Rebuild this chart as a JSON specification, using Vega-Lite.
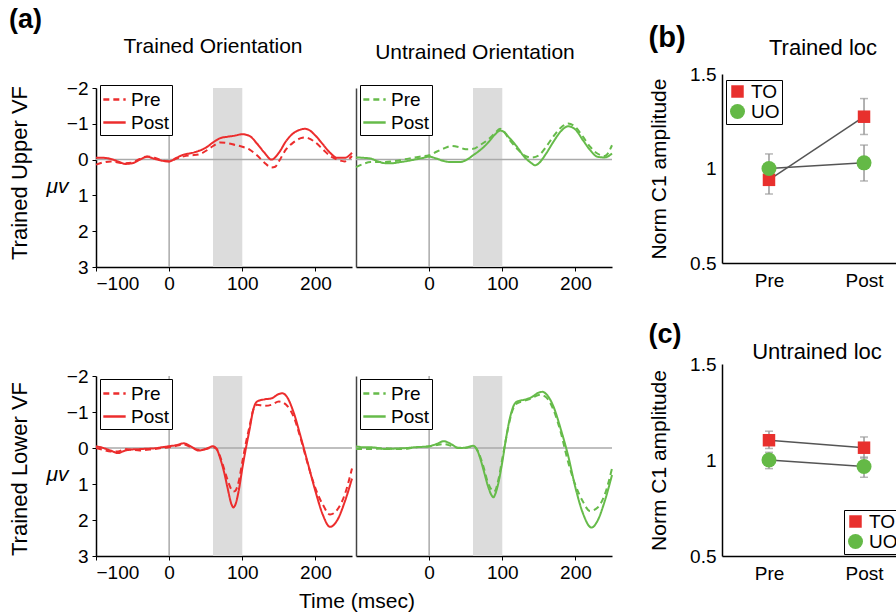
{
"$schema":"https://vega.github.io/schema/vega-lite/v6.json",
"padding":{"left":8,"top":6,"right":0,"bottom":0},
"config":{
 "font":"Liberation Sans",
 "view":{"stroke":null},
 "axis":{"labelFontSize":19,"labelColor":"#000","domainColor":"#000","domainWidth":1.5,"tickColor":"#000","grid":false,"titleFontWeight":"normal","titleColor":"#000","titleFontSize":21,"labelFont":"Liberation Sans","titleFont":"Liberation Sans"},
 "title":{"fontWeight":"normal","color":"#000","fontSize":21,"font":"Liberation Sans"},
 "legend":{"labelFontSize":19,"labelColor":"#000","strokeColor":"#000","fillColor":"#fff","padding":3,"cornerRadius":0,"labelFont":"Liberation Sans"}
},
"datasets":{
"erp":[
{"panel":"UT","phase":"Post","t":-100,"uv":-0.05},{"panel":"UT","phase":"Post","t":-90,"uv":-0.05},{"panel":"UT","phase":"Post","t":-80,"uv":-0.02},{"panel":"UT","phase":"Post","t":-70,"uv":0.05},{"panel":"UT","phase":"Post","t":-60,"uv":0.12},{"panel":"UT","phase":"Post","t":-50,"uv":0.1},{"panel":"UT","phase":"Post","t":-40,"uv":0.0},{"panel":"UT","phase":"Post","t":-30,"uv":-0.08},{"panel":"UT","phase":"Post","t":-20,"uv":-0.02},{"panel":"UT","phase":"Post","t":-10,"uv":0.03},{"panel":"UT","phase":"Post","t":0,"uv":0.05},{"panel":"UT","phase":"Post","t":10,"uv":-0.05},{"panel":"UT","phase":"Post","t":20,"uv":-0.14},{"panel":"UT","phase":"Post","t":30,"uv":-0.18},{"panel":"UT","phase":"Post","t":40,"uv":-0.24},{"panel":"UT","phase":"Post","t":50,"uv":-0.33},{"panel":"UT","phase":"Post","t":60,"uv":-0.48},{"panel":"UT","phase":"Post","t":70,"uv":-0.6},{"panel":"UT","phase":"Post","t":80,"uv":-0.64},{"panel":"UT","phase":"Post","t":90,"uv":-0.67},{"panel":"UT","phase":"Post","t":100,"uv":-0.71},{"panel":"UT","phase":"Post","t":110,"uv":-0.66},{"panel":"UT","phase":"Post","t":120,"uv":-0.45},{"panel":"UT","phase":"Post","t":130,"uv":-0.2},{"panel":"UT","phase":"Post","t":140,"uv":0.0},{"panel":"UT","phase":"Post","t":150,"uv":-0.19},{"panel":"UT","phase":"Post","t":160,"uv":-0.52},{"panel":"UT","phase":"Post","t":170,"uv":-0.74},{"panel":"UT","phase":"Post","t":180,"uv":-0.84},{"panel":"UT","phase":"Post","t":185,"uv":-0.86},{"panel":"UT","phase":"Post","t":190,"uv":-0.84},{"panel":"UT","phase":"Post","t":200,"uv":-0.67},{"panel":"UT","phase":"Post","t":210,"uv":-0.43},{"panel":"UT","phase":"Post","t":220,"uv":-0.19},{"panel":"UT","phase":"Post","t":230,"uv":-0.05},{"panel":"UT","phase":"Post","t":240,"uv":-0.05},{"panel":"UT","phase":"Post","t":250,"uv":-0.19},
{"panel":"UT","phase":"Pre","t":-100,"uv":0.14},{"panel":"UT","phase":"Pre","t":-90,"uv":0.08},{"panel":"UT","phase":"Pre","t":-80,"uv":0.05},{"panel":"UT","phase":"Pre","t":-70,"uv":0.08},{"panel":"UT","phase":"Pre","t":-60,"uv":0.1},{"panel":"UT","phase":"Pre","t":-50,"uv":0.08},{"panel":"UT","phase":"Pre","t":-40,"uv":-0.02},{"panel":"UT","phase":"Pre","t":-30,"uv":-0.09},{"panel":"UT","phase":"Pre","t":-20,"uv":-0.05},{"panel":"UT","phase":"Pre","t":-10,"uv":0.02},{"panel":"UT","phase":"Pre","t":0,"uv":0.05},{"panel":"UT","phase":"Pre","t":10,"uv":-0.03},{"panel":"UT","phase":"Pre","t":20,"uv":-0.09},{"panel":"UT","phase":"Pre","t":30,"uv":-0.12},{"panel":"UT","phase":"Pre","t":40,"uv":-0.14},{"panel":"UT","phase":"Pre","t":50,"uv":-0.24},{"panel":"UT","phase":"Pre","t":60,"uv":-0.38},{"panel":"UT","phase":"Pre","t":70,"uv":-0.48},{"panel":"UT","phase":"Pre","t":80,"uv":-0.46},{"panel":"UT","phase":"Pre","t":90,"uv":-0.41},{"panel":"UT","phase":"Pre","t":100,"uv":-0.36},{"panel":"UT","phase":"Pre","t":110,"uv":-0.28},{"panel":"UT","phase":"Pre","t":120,"uv":-0.12},{"panel":"UT","phase":"Pre","t":130,"uv":0.08},{"panel":"UT","phase":"Pre","t":140,"uv":0.22},{"panel":"UT","phase":"Pre","t":145,"uv":0.2},{"panel":"UT","phase":"Pre","t":150,"uv":0.05},{"panel":"UT","phase":"Pre","t":160,"uv":-0.29},{"panel":"UT","phase":"Pre","t":170,"uv":-0.48},{"panel":"UT","phase":"Pre","t":180,"uv":-0.6},{"panel":"UT","phase":"Pre","t":185,"uv":-0.62},{"panel":"UT","phase":"Pre","t":190,"uv":-0.6},{"panel":"UT","phase":"Pre","t":200,"uv":-0.48},{"panel":"UT","phase":"Pre","t":210,"uv":-0.29},{"panel":"UT","phase":"Pre","t":220,"uv":-0.1},{"panel":"UT","phase":"Pre","t":230,"uv":0.0},{"panel":"UT","phase":"Pre","t":240,"uv":0.05},{"panel":"UT","phase":"Pre","t":250,"uv":-0.1},
{"panel":"UU","phase":"Post","t":-100,"uv":-0.06},{"panel":"UU","phase":"Post","t":-90,"uv":-0.05},{"panel":"UU","phase":"Post","t":-80,"uv":-0.03},{"panel":"UU","phase":"Post","t":-70,"uv":0.05},{"panel":"UU","phase":"Post","t":-60,"uv":0.1},{"panel":"UU","phase":"Post","t":-50,"uv":0.1},{"panel":"UU","phase":"Post","t":-40,"uv":0.07},{"panel":"UU","phase":"Post","t":-30,"uv":0.04},{"panel":"UU","phase":"Post","t":-20,"uv":0.0},{"panel":"UU","phase":"Post","t":-10,"uv":-0.04},{"panel":"UU","phase":"Post","t":0,"uv":-0.08},{"panel":"UU","phase":"Post","t":10,"uv":-0.03},{"panel":"UU","phase":"Post","t":20,"uv":0.04},{"panel":"UU","phase":"Post","t":30,"uv":0.07},{"panel":"UU","phase":"Post","t":40,"uv":0.07},{"panel":"UU","phase":"Post","t":50,"uv":0.02},{"panel":"UU","phase":"Post","t":60,"uv":-0.12},{"panel":"UU","phase":"Post","t":70,"uv":-0.27},{"panel":"UU","phase":"Post","t":80,"uv":-0.46},{"panel":"UU","phase":"Post","t":90,"uv":-0.7},{"panel":"UU","phase":"Post","t":97,"uv":-0.81},{"panel":"UU","phase":"Post","t":100,"uv":-0.8},{"panel":"UU","phase":"Post","t":110,"uv":-0.6},{"panel":"UU","phase":"Post","t":120,"uv":-0.36},{"panel":"UU","phase":"Post","t":130,"uv":-0.08},{"panel":"UU","phase":"Post","t":140,"uv":0.1},{"panel":"UU","phase":"Post","t":145,"uv":0.16},{"panel":"UU","phase":"Post","t":150,"uv":0.1},{"panel":"UU","phase":"Post","t":160,"uv":-0.17},{"panel":"UU","phase":"Post","t":170,"uv":-0.5},{"panel":"UU","phase":"Post","t":180,"uv":-0.79},{"panel":"UU","phase":"Post","t":190,"uv":-0.93},{"panel":"UU","phase":"Post","t":200,"uv":-0.84},{"panel":"UU","phase":"Post","t":210,"uv":-0.55},{"panel":"UU","phase":"Post","t":220,"uv":-0.27},{"panel":"UU","phase":"Post","t":230,"uv":-0.08},{"panel":"UU","phase":"Post","t":240,"uv":-0.06},{"panel":"UU","phase":"Post","t":250,"uv":-0.17},
{"panel":"UU","phase":"Pre","t":-100,"uv":0.21},{"panel":"UU","phase":"Pre","t":-90,"uv":0.12},{"panel":"UU","phase":"Pre","t":-80,"uv":0.07},{"panel":"UU","phase":"Pre","t":-70,"uv":0.07},{"panel":"UU","phase":"Pre","t":-60,"uv":0.07},{"panel":"UU","phase":"Pre","t":-50,"uv":0.05},{"panel":"UU","phase":"Pre","t":-40,"uv":0.02},{"panel":"UU","phase":"Pre","t":-30,"uv":-0.02},{"panel":"UU","phase":"Pre","t":-20,"uv":-0.06},{"panel":"UU","phase":"Pre","t":-10,"uv":-0.09},{"panel":"UU","phase":"Pre","t":0,"uv":-0.12},{"panel":"UU","phase":"Pre","t":10,"uv":-0.22},{"panel":"UU","phase":"Pre","t":20,"uv":-0.31},{"panel":"UU","phase":"Pre","t":30,"uv":-0.38},{"panel":"UU","phase":"Pre","t":40,"uv":-0.35},{"panel":"UU","phase":"Pre","t":50,"uv":-0.29},{"panel":"UU","phase":"Pre","t":60,"uv":-0.3},{"panel":"UU","phase":"Pre","t":70,"uv":-0.41},{"panel":"UU","phase":"Pre","t":80,"uv":-0.55},{"panel":"UU","phase":"Pre","t":90,"uv":-0.74},{"panel":"UU","phase":"Pre","t":97,"uv":-0.86},{"panel":"UU","phase":"Pre","t":100,"uv":-0.83},{"panel":"UU","phase":"Pre","t":110,"uv":-0.55},{"panel":"UU","phase":"Pre","t":120,"uv":-0.31},{"panel":"UU","phase":"Pre","t":130,"uv":-0.12},{"panel":"UU","phase":"Pre","t":140,"uv":-0.06},{"panel":"UU","phase":"Pre","t":150,"uv":-0.12},{"panel":"UU","phase":"Pre","t":160,"uv":-0.36},{"panel":"UU","phase":"Pre","t":170,"uv":-0.65},{"panel":"UU","phase":"Pre","t":180,"uv":-0.89},{"panel":"UU","phase":"Pre","t":190,"uv":-1.01},{"panel":"UU","phase":"Pre","t":200,"uv":-0.91},{"panel":"UU","phase":"Pre","t":210,"uv":-0.65},{"panel":"UU","phase":"Pre","t":220,"uv":-0.36},{"panel":"UU","phase":"Pre","t":230,"uv":-0.17},{"panel":"UU","phase":"Pre","t":240,"uv":-0.1},{"panel":"UU","phase":"Pre","t":250,"uv":-0.4},
{"panel":"LT","phase":"Post","t":-100,"uv":-0.05},{"panel":"LT","phase":"Post","t":-90,"uv":0.0},{"panel":"LT","phase":"Post","t":-80,"uv":0.07},{"panel":"LT","phase":"Post","t":-70,"uv":0.14},{"panel":"LT","phase":"Post","t":-60,"uv":0.07},{"panel":"LT","phase":"Post","t":-50,"uv":0.04},{"panel":"LT","phase":"Post","t":-40,"uv":0.03},{"panel":"LT","phase":"Post","t":-30,"uv":0.02},{"panel":"LT","phase":"Post","t":-20,"uv":0.01},{"panel":"LT","phase":"Post","t":-10,"uv":-0.02},{"panel":"LT","phase":"Post","t":0,"uv":-0.05},{"panel":"LT","phase":"Post","t":10,"uv":-0.08},{"panel":"LT","phase":"Post","t":20,"uv":-0.13},{"panel":"LT","phase":"Post","t":30,"uv":-0.04},{"panel":"LT","phase":"Post","t":40,"uv":0.07},{"panel":"LT","phase":"Post","t":50,"uv":0.03},{"panel":"LT","phase":"Post","t":60,"uv":-0.05},{"panel":"LT","phase":"Post","t":65,"uv":0.03},{"panel":"LT","phase":"Post","t":70,"uv":0.3},{"panel":"LT","phase":"Post","t":75,"uv":0.66},{"panel":"LT","phase":"Post","t":80,"uv":1.12},{"panel":"LT","phase":"Post","t":85,"uv":1.55},{"panel":"LT","phase":"Post","t":88,"uv":1.65},{"panel":"LT","phase":"Post","t":90,"uv":1.6},{"panel":"LT","phase":"Post","t":95,"uv":1.2},{"panel":"LT","phase":"Post","t":100,"uv":0.57},{"panel":"LT","phase":"Post","t":105,"uv":0.0},{"panel":"LT","phase":"Post","t":110,"uv":-0.52},{"panel":"LT","phase":"Post","t":115,"uv":-1.06},{"panel":"LT","phase":"Post","t":120,"uv":-1.29},{"panel":"LT","phase":"Post","t":130,"uv":-1.35},{"panel":"LT","phase":"Post","t":140,"uv":-1.38},{"panel":"LT","phase":"Post","t":150,"uv":-1.5},{"panel":"LT","phase":"Post","t":155,"uv":-1.52},{"panel":"LT","phase":"Post","t":160,"uv":-1.45},{"panel":"LT","phase":"Post","t":170,"uv":-1.0},{"panel":"LT","phase":"Post","t":180,"uv":-0.3},{"panel":"LT","phase":"Post","t":190,"uv":0.45},{"panel":"LT","phase":"Post","t":200,"uv":1.2},{"panel":"LT","phase":"Post","t":210,"uv":1.85},{"panel":"LT","phase":"Post","t":220,"uv":2.19},{"panel":"LT","phase":"Post","t":230,"uv":2.0},{"panel":"LT","phase":"Post","t":240,"uv":1.5},{"panel":"LT","phase":"Post","t":250,"uv":0.85},
{"panel":"LT","phase":"Pre","t":-100,"uv":0.0},{"panel":"LT","phase":"Pre","t":-90,"uv":0.05},{"panel":"LT","phase":"Pre","t":-80,"uv":0.1},{"panel":"LT","phase":"Pre","t":-70,"uv":0.1},{"panel":"LT","phase":"Pre","t":-60,"uv":0.03},{"panel":"LT","phase":"Pre","t":-50,"uv":0.05},{"panel":"LT","phase":"Pre","t":-40,"uv":0.07},{"panel":"LT","phase":"Pre","t":-30,"uv":0.05},{"panel":"LT","phase":"Pre","t":-20,"uv":0.03},{"panel":"LT","phase":"Pre","t":-10,"uv":0.0},{"panel":"LT","phase":"Pre","t":0,"uv":-0.02},{"panel":"LT","phase":"Pre","t":10,"uv":-0.06},{"panel":"LT","phase":"Pre","t":20,"uv":-0.1},{"panel":"LT","phase":"Pre","t":30,"uv":-0.02},{"panel":"LT","phase":"Pre","t":40,"uv":0.05},{"panel":"LT","phase":"Pre","t":50,"uv":0.03},{"panel":"LT","phase":"Pre","t":60,"uv":-0.02},{"panel":"LT","phase":"Pre","t":65,"uv":0.03},{"panel":"LT","phase":"Pre","t":70,"uv":0.25},{"panel":"LT","phase":"Pre","t":75,"uv":0.57},{"panel":"LT","phase":"Pre","t":80,"uv":0.89},{"panel":"LT","phase":"Pre","t":85,"uv":1.15},{"panel":"LT","phase":"Pre","t":88,"uv":1.21},{"panel":"LT","phase":"Pre","t":90,"uv":1.2},{"panel":"LT","phase":"Pre","t":95,"uv":0.94},{"panel":"LT","phase":"Pre","t":100,"uv":0.39},{"panel":"LT","phase":"Pre","t":105,"uv":-0.15},{"panel":"LT","phase":"Pre","t":110,"uv":-0.61},{"panel":"LT","phase":"Pre","t":115,"uv":-1.06},{"panel":"LT","phase":"Pre","t":120,"uv":-1.2},{"panel":"LT","phase":"Pre","t":130,"uv":-1.17},{"panel":"LT","phase":"Pre","t":140,"uv":-1.2},{"panel":"LT","phase":"Pre","t":150,"uv":-1.29},{"panel":"LT","phase":"Pre","t":155,"uv":-1.27},{"panel":"LT","phase":"Pre","t":160,"uv":-1.2},{"panel":"LT","phase":"Pre","t":170,"uv":-0.88},{"panel":"LT","phase":"Pre","t":180,"uv":-0.25},{"panel":"LT","phase":"Pre","t":190,"uv":0.48},{"panel":"LT","phase":"Pre","t":200,"uv":1.12},{"panel":"LT","phase":"Pre","t":210,"uv":1.57},{"panel":"LT","phase":"Pre","t":220,"uv":1.85},{"panel":"LT","phase":"Pre","t":230,"uv":1.71},{"panel":"LT","phase":"Pre","t":240,"uv":1.3},{"panel":"LT","phase":"Pre","t":250,"uv":0.57},
{"panel":"LU","phase":"Post","t":-100,"uv":-0.05},{"panel":"LU","phase":"Post","t":-90,"uv":-0.02},{"panel":"LU","phase":"Post","t":-80,"uv":-0.02},{"panel":"LU","phase":"Post","t":-70,"uv":0.0},{"panel":"LU","phase":"Post","t":-60,"uv":0.03},{"panel":"LU","phase":"Post","t":-50,"uv":0.02},{"panel":"LU","phase":"Post","t":-40,"uv":0.01},{"panel":"LU","phase":"Post","t":-30,"uv":0.0},{"panel":"LU","phase":"Post","t":-20,"uv":-0.02},{"panel":"LU","phase":"Post","t":-10,"uv":-0.03},{"panel":"LU","phase":"Post","t":0,"uv":-0.05},{"panel":"LU","phase":"Post","t":10,"uv":-0.11},{"panel":"LU","phase":"Post","t":20,"uv":-0.19},{"panel":"LU","phase":"Post","t":30,"uv":-0.11},{"panel":"LU","phase":"Post","t":40,"uv":0.0},{"panel":"LU","phase":"Post","t":50,"uv":-0.01},{"panel":"LU","phase":"Post","t":60,"uv":-0.06},{"panel":"LU","phase":"Post","t":65,"uv":0.03},{"panel":"LU","phase":"Post","t":70,"uv":0.3},{"panel":"LU","phase":"Post","t":75,"uv":0.66},{"panel":"LU","phase":"Post","t":80,"uv":1.03},{"panel":"LU","phase":"Post","t":85,"uv":1.3},{"panel":"LU","phase":"Post","t":88,"uv":1.37},{"panel":"LU","phase":"Post","t":90,"uv":1.3},{"panel":"LU","phase":"Post","t":95,"uv":0.94},{"panel":"LU","phase":"Post","t":100,"uv":0.39},{"panel":"LU","phase":"Post","t":105,"uv":-0.25},{"panel":"LU","phase":"Post","t":110,"uv":-0.79},{"panel":"LU","phase":"Post","t":115,"uv":-1.15},{"panel":"LU","phase":"Post","t":120,"uv":-1.29},{"panel":"LU","phase":"Post","t":130,"uv":-1.34},{"panel":"LU","phase":"Post","t":140,"uv":-1.41},{"panel":"LU","phase":"Post","t":150,"uv":-1.54},{"panel":"LU","phase":"Post","t":155,"uv":-1.56},{"panel":"LU","phase":"Post","t":160,"uv":-1.5},{"panel":"LU","phase":"Post","t":170,"uv":-1.15},{"panel":"LU","phase":"Post","t":180,"uv":-0.52},{"panel":"LU","phase":"Post","t":190,"uv":0.21},{"panel":"LU","phase":"Post","t":200,"uv":1.1},{"panel":"LU","phase":"Post","t":210,"uv":1.8},{"panel":"LU","phase":"Post","t":222,"uv":2.21},{"panel":"LU","phase":"Post","t":230,"uv":2.03},{"panel":"LU","phase":"Post","t":240,"uv":1.48},{"panel":"LU","phase":"Post","t":250,"uv":0.75},
{"panel":"LU","phase":"Pre","t":-100,"uv":0.03},{"panel":"LU","phase":"Pre","t":-90,"uv":0.03},{"panel":"LU","phase":"Pre","t":-80,"uv":0.03},{"panel":"LU","phase":"Pre","t":-70,"uv":0.02},{"panel":"LU","phase":"Pre","t":-60,"uv":0.01},{"panel":"LU","phase":"Pre","t":-50,"uv":0.02},{"panel":"LU","phase":"Pre","t":-40,"uv":0.03},{"panel":"LU","phase":"Pre","t":-30,"uv":0.02},{"panel":"LU","phase":"Pre","t":-20,"uv":-0.02},{"panel":"LU","phase":"Pre","t":-10,"uv":-0.03},{"panel":"LU","phase":"Pre","t":0,"uv":-0.04},{"panel":"LU","phase":"Pre","t":10,"uv":-0.08},{"panel":"LU","phase":"Pre","t":20,"uv":-0.11},{"panel":"LU","phase":"Pre","t":30,"uv":-0.06},{"panel":"LU","phase":"Pre","t":40,"uv":-0.01},{"panel":"LU","phase":"Pre","t":50,"uv":-0.01},{"panel":"LU","phase":"Pre","t":60,"uv":-0.05},{"panel":"LU","phase":"Pre","t":65,"uv":0.03},{"panel":"LU","phase":"Pre","t":70,"uv":0.25},{"panel":"LU","phase":"Pre","t":75,"uv":0.57},{"panel":"LU","phase":"Pre","t":80,"uv":0.94},{"panel":"LU","phase":"Pre","t":85,"uv":1.15},{"panel":"LU","phase":"Pre","t":88,"uv":1.21},{"panel":"LU","phase":"Pre","t":90,"uv":1.19},{"panel":"LU","phase":"Pre","t":95,"uv":0.85},{"panel":"LU","phase":"Pre","t":100,"uv":0.3},{"panel":"LU","phase":"Pre","t":105,"uv":-0.25},{"panel":"LU","phase":"Pre","t":110,"uv":-0.75},{"panel":"LU","phase":"Pre","t":115,"uv":-1.1},{"panel":"LU","phase":"Pre","t":120,"uv":-1.24},{"panel":"LU","phase":"Pre","t":130,"uv":-1.31},{"panel":"LU","phase":"Pre","t":140,"uv":-1.38},{"panel":"LU","phase":"Pre","t":150,"uv":-1.47},{"panel":"LU","phase":"Pre","t":155,"uv":-1.46},{"panel":"LU","phase":"Pre","t":160,"uv":-1.41},{"panel":"LU","phase":"Pre","t":170,"uv":-1.06},{"panel":"LU","phase":"Pre","t":180,"uv":-0.43},{"panel":"LU","phase":"Pre","t":190,"uv":0.39},{"panel":"LU","phase":"Pre","t":200,"uv":1.03},{"panel":"LU","phase":"Pre","t":210,"uv":1.48},{"panel":"LU","phase":"Pre","t":220,"uv":1.75},{"panel":"LU","phase":"Pre","t":230,"uv":1.66},{"panel":"LU","phase":"Pre","t":240,"uv":1.3},{"panel":"LU","phase":"Pre","t":250,"uv":0.57}
],
"b":[
{"cond":"TO","phase":"Pre","m":0.94,"lo":0.865,"hi":1.015},
{"cond":"TO","phase":"Post","m":1.274,"lo":1.18,"hi":1.37},
{"cond":"UO","phase":"Pre","m":1.0,"lo":0.92,"hi":1.077},
{"cond":"UO","phase":"Post","m":1.03,"lo":0.934,"hi":1.124}
],
"c":[
{"cond":"TO","phase":"Pre","m":1.103,"lo":1.06,"hi":1.15},
{"cond":"TO","phase":"Post","m":1.064,"lo":1.01,"hi":1.12},
{"cond":"UO","phase":"Pre","m":1.0,"lo":0.955,"hi":1.04},
{"cond":"UO","phase":"Post","m":0.966,"lo":0.91,"hi":1.015}
]
},
"resolve":{"scale":{"strokeDash":"independent","color":"independent","shape":"independent","size":"independent"}},
"align":"none",
"spacing":32,
"hconcat":[
{
 "title":{"text":"(a)","anchor":"start","fontSize":27,"fontWeight":"bold","offset":2},
 "spacing":74,
 "resolve":{"scale":{"strokeDash":"independent"}},
 "vconcat":[
 {
  "title":{"text":"Trained Upper VF","orient":"left","fontSize":22,"offset":14,"dx":33},
  "spacing":-12,
  "resolve":{"scale":{"strokeDash":"independent"}},
  "hconcat":[
  {
   "width":256,"height":179,
   "title":{"text":"Trained Orientation","fontSize":21,"offset":22,"dx":-11},
   "encoding":{
     "x":{"field":"t","type":"quantitative","scale":{"domain":[-100,250],"nice":false},"axis":{"title":null,"values":[-100,0,100,200],"tickSize":4,"labelPadding":3}},
     "y":{"field":"uv","type":"quantitative","scale":{"domain":[-2,3],"reverse":true,"nice":false},"axis":{"title":"μv","titleAngle":0,"titleFontStyle":"italic","titleX":-39,"titleY":98,"titleAlign":"center","titleBaseline":"middle","values":[-2,-1,0,1,2,3],"tickSize":4,"labelPadding":4}}
   },
   "layer":[
    {"data":{"values":[{"t":60,"t2":100}]},"mark":{"type":"rect","color":"#dcdcdc"},"encoding":{"y":null,"x2":{"field":"t2"}}},
    {"data":{"values":[{"t":0}]},"mark":{"type":"rule","color":"#aaaaaa","strokeWidth":1.5},"encoding":{"y":null}},
    {"data":{"values":[{"uv":0}]},"mark":{"type":"rule","color":"#aaaaaa","strokeWidth":1.5},"encoding":{"x":null}},
    {"data":{"name":"erp"},"transform":[{"filter":"datum.panel === 'UT'"}],
     "mark":{"type":"line","color":"#ec2d2d","strokeWidth":2,"interpolate":"monotone"},
     "encoding":{
      "strokeDash":{"field":"phase","type":"nominal","scale":{"domain":["Pre","Post"],"range":[[6,4],[1,0]]},"legend":{"title":null,"orient":"none","legendX":4,"legendY":-3,"symbolStrokeColor":"#ec2d2d","symbolStrokeWidth":2.5,"symbolSize":500,"rowPadding":0,"padding":2}}
     }}
   ]
  },
  {
   "width":256,"height":179,
   "title":{"text":"Untrained Orientation","fontSize":21,"offset":22,"dx":-9},
   "encoding":{
     "x":{"field":"t","type":"quantitative","scale":{"domain":[-100,250],"nice":false},"axis":{"title":null,"values":[0,100,200],"tickSize":4,"labelPadding":3}},
     "y":{"field":"uv","type":"quantitative","scale":{"domain":[-2,3],"reverse":true,"nice":false},"axis":{"title":null,"labels":false,"ticks":false,"domainColor":"#444","minExtent":0,"maxExtent":0}}
   },
   "layer":[
    {"data":{"values":[{"t":60,"t2":100}]},"mark":{"type":"rect","color":"#dcdcdc"},"encoding":{"y":null,"x2":{"field":"t2"}}},
    {"data":{"values":[{"t":0}]},"mark":{"type":"rule","color":"#aaaaaa","strokeWidth":1.5},"encoding":{"y":null}},
    {"data":{"values":[{"uv":0}]},"mark":{"type":"rule","color":"#aaaaaa","strokeWidth":1.5},"encoding":{"x":null}},
    {"data":{"name":"erp"},"transform":[{"filter":"datum.panel === 'UU'"}],
     "mark":{"type":"line","color":"#66bb4a","strokeWidth":2,"interpolate":"monotone"},
     "encoding":{
      "strokeDash":{"field":"phase","type":"nominal","scale":{"domain":["Pre","Post"],"range":[[6,4],[1,0]]},"legend":{"title":null,"orient":"none","legendX":4,"legendY":-3,"symbolStrokeColor":"#66bb4a","symbolStrokeWidth":2.5,"symbolSize":500,"rowPadding":0,"padding":2}}
     }}
   ]
  }
  ]
 },
 {
  "title":{"text":"Trained Lower VF","orient":"left","fontSize":22,"offset":14,"dx":56},
  "resolve":{"scale":{"strokeDash":"independent"}},
  "vconcat":[
  {
   "title":{"text":"Time (msec)","orient":"bottom","anchor":"middle","fontSize":21,"offset":9,"dx":26},
   "spacing":-12,
   "resolve":{"scale":{"strokeDash":"independent"}},
   "hconcat":[
   {
    "width":256,"height":180,
    "encoding":{
      "x":{"field":"t","type":"quantitative","scale":{"domain":[-100,250],"nice":false},"axis":{"title":null,"values":[-100,0,100,200],"tickSize":4,"labelPadding":3}},
      "y":{"field":"uv","type":"quantitative","scale":{"domain":[-2,3],"reverse":true,"nice":false},"axis":{"title":"μv","titleAngle":0,"titleFontStyle":"italic","titleX":-39,"titleY":98,"titleAlign":"center","titleBaseline":"middle","values":[-2,-1,0,1,2,3],"tickSize":4,"labelPadding":4}}
    },
    "layer":[
     {"data":{"values":[{"t":60,"t2":100}]},"mark":{"type":"rect","color":"#dcdcdc"},"encoding":{"y":null,"x2":{"field":"t2"}}},
     {"data":{"values":[{"t":0}]},"mark":{"type":"rule","color":"#aaaaaa","strokeWidth":1.5},"encoding":{"y":null}},
     {"data":{"values":[{"uv":0}]},"mark":{"type":"rule","color":"#aaaaaa","strokeWidth":1.5},"encoding":{"x":null}},
     {"data":{"name":"erp"},"transform":[{"filter":"datum.panel === 'LT'"}],
      "mark":{"type":"line","color":"#ec2d2d","strokeWidth":2,"interpolate":"monotone"},
      "encoding":{
       "strokeDash":{"field":"phase","type":"nominal","scale":{"domain":["Pre","Post"],"range":[[6,4],[1,0]]},"legend":{"title":null,"orient":"none","legendX":4,"legendY":3,"symbolStrokeColor":"#ec2d2d","symbolStrokeWidth":2.5,"symbolSize":500,"rowPadding":0,"padding":2}}
      }}
    ]
   },
   {
    "width":256,"height":180,
    "encoding":{
      "x":{"field":"t","type":"quantitative","scale":{"domain":[-100,250],"nice":false},"axis":{"title":null,"values":[0,100,200],"tickSize":4,"labelPadding":3}},
      "y":{"field":"uv","type":"quantitative","scale":{"domain":[-2,3],"reverse":true,"nice":false},"axis":{"title":null,"labels":false,"ticks":false,"domainColor":"#444","minExtent":0,"maxExtent":0}}
    },
    "layer":[
     {"data":{"values":[{"t":60,"t2":100}]},"mark":{"type":"rect","color":"#dcdcdc"},"encoding":{"y":null,"x2":{"field":"t2"}}},
     {"data":{"values":[{"t":0}]},"mark":{"type":"rule","color":"#aaaaaa","strokeWidth":1.5},"encoding":{"y":null}},
     {"data":{"values":[{"uv":0}]},"mark":{"type":"rule","color":"#aaaaaa","strokeWidth":1.5},"encoding":{"x":null}},
     {"data":{"name":"erp"},"transform":[{"filter":"datum.panel === 'LU'"}],
      "mark":{"type":"line","color":"#66bb4a","strokeWidth":2,"interpolate":"monotone"},
      "encoding":{
       "strokeDash":{"field":"phase","type":"nominal","scale":{"domain":["Pre","Post"],"range":[[6,4],[1,0]]},"legend":{"title":null,"orient":"none","legendX":4,"legendY":3,"symbolStrokeColor":"#66bb4a","symbolStrokeWidth":2.5,"symbolSize":500,"rowPadding":0,"padding":2}}
      }}
    ]
   }
   ]
  }
  ]
 }
 ]
},
{
 "title":{"text":"(b)","anchor":"start","fontSize":29,"fontWeight":"bold","offset":-16},
 "spacing":31,
 "resolve":{"scale":{"color":"independent","shape":"independent","size":"independent"}},
 "vconcat":[
  {
   "width":180,"height":175,
   "title":{"text":"Trained loc","fontSize":22,"offset":5,"dx":11},
   "data":{"name":"b"},
   "encoding":{"x":{"field":"phase","type":"nominal","sort":null,"scale":{"type":"point","domain":["Pre","Post"],"padding":0.447,"align":0.553},"axis":{"title":null,"labelAngle":0,"ticks":false,"labelPadding":8}}},
   "layer":[
    {"mark":{"type":"line","color":"#555555","strokeWidth":1.5},"encoding":{"y":{"field":"m","type":"quantitative","scale":{"domain":[0.5,1.5],"range":[175,-14],"nice":false},"axis":{"values":[0.5,1,1.5],"format":"~g","title":"Norm C1 amplitude","titleFontSize":21,"titlePadding":20,"labelPadding":6,"ticks":false}},"detail":{"field":"cond"}}},
    {"mark":{"type":"rule","color":"#999999","strokeWidth":1.5},"encoding":{"y":{"field":"lo","type":"quantitative","scale":{"domain":[0.5,1.5],"range":[175,-14],"nice":false},"axis":{"values":[0.5,1,1.5],"format":"~g","title":"Norm C1 amplitude","titleFontSize":21,"titlePadding":20,"labelPadding":6,"ticks":false}},"y2":{"field":"hi"}}},
    {"mark":{"type":"tick","color":"#999999","size":8,"thickness":1.5},"encoding":{"y":{"field":"lo","type":"quantitative","scale":{"domain":[0.5,1.5],"range":[175,-14],"nice":false},"axis":{"values":[0.5,1,1.5],"format":"~g","title":"Norm C1 amplitude","titleFontSize":21,"titlePadding":20,"labelPadding":6,"ticks":false}}}},
    {"mark":{"type":"tick","color":"#999999","size":8,"thickness":1.5},"encoding":{"y":{"field":"hi","type":"quantitative","scale":{"domain":[0.5,1.5],"range":[175,-14],"nice":false},"axis":{"values":[0.5,1,1.5],"format":"~g","title":"Norm C1 amplitude","titleFontSize":21,"titlePadding":20,"labelPadding":6,"ticks":false}}}},
    {"mark":{"type":"point","filled":true,"opacity":1},"encoding":{
      "y":{"field":"m","type":"quantitative","scale":{"domain":[0.5,1.5],"range":[175,-14],"nice":false},"axis":{"values":[0.5,1,1.5],"format":"~g","title":"Norm C1 amplitude","titleFontSize":21,"titlePadding":20,"labelPadding":6,"ticks":false}},
      "color":{"field":"cond","type":"nominal","scale":{"domain":["TO","UO"],"range":["#e8302d","#64b946"]},"legend":{"title":null,"orient":"none","legendX":4,"legendY":-8,"symbolSize":150,"rowPadding":0,"padding":2}},
      "shape":{"field":"cond","type":"nominal","scale":{"domain":["TO","UO"],"range":["square","circle"]},"legend":{"title":null,"orient":"none","legendX":4,"legendY":-8,"symbolSize":150,"rowPadding":0,"padding":2}},
      "size":{"field":"cond","type":"nominal","scale":{"domain":["TO","UO"],"range":[156,225]},"legend":null}}}
   ]
  },
 {
  "title":{"text":"(c)","anchor":"start","fontSize":27,"fontWeight":"bold","offset":-8},
  "resolve":{"scale":{"color":"independent","shape":"independent","size":"independent"}},
  "vconcat":[
  {
   "width":180,"height":192,
   "title":{"text":"Untrained loc","fontSize":22,"offset":-9,"dx":5},
   "data":{"name":"c"},
   "encoding":{"x":{"field":"phase","type":"nominal","sort":null,"scale":{"type":"point","domain":["Pre","Post"],"padding":0.447,"align":0.553},"axis":{"title":null,"labelAngle":0,"ticks":false,"labelPadding":8}}},
   "layer":[
    {"mark":{"type":"line","color":"#555555","strokeWidth":1.5},"encoding":{"y":{"field":"m","type":"quantitative","scale":{"domain":[0.5,1.5],"nice":false},"axis":{"values":[0.5,1,1.5],"format":"~g","title":"Norm C1 amplitude","titleFontSize":21,"titlePadding":20,"labelPadding":6,"ticks":false}},"detail":{"field":"cond"}}},
    {"mark":{"type":"rule","color":"#999999","strokeWidth":1.5},"encoding":{"y":{"field":"lo","type":"quantitative","scale":{"domain":[0.5,1.5],"nice":false},"axis":{"values":[0.5,1,1.5],"format":"~g","title":"Norm C1 amplitude","titleFontSize":21,"titlePadding":20,"labelPadding":6,"ticks":false}},"y2":{"field":"hi"}}},
    {"mark":{"type":"tick","color":"#999999","size":8,"thickness":1.5},"encoding":{"y":{"field":"lo","type":"quantitative","scale":{"domain":[0.5,1.5],"nice":false},"axis":{"values":[0.5,1,1.5],"format":"~g","title":"Norm C1 amplitude","titleFontSize":21,"titlePadding":20,"labelPadding":6,"ticks":false}}}},
    {"mark":{"type":"tick","color":"#999999","size":8,"thickness":1.5},"encoding":{"y":{"field":"hi","type":"quantitative","scale":{"domain":[0.5,1.5],"nice":false},"axis":{"values":[0.5,1,1.5],"format":"~g","title":"Norm C1 amplitude","titleFontSize":21,"titlePadding":20,"labelPadding":6,"ticks":false}}}},
    {"mark":{"type":"point","filled":true,"opacity":1},"encoding":{
      "y":{"field":"m","type":"quantitative","scale":{"domain":[0.5,1.5],"nice":false},"axis":{"values":[0.5,1,1.5],"format":"~g","title":"Norm C1 amplitude","titleFontSize":21,"titlePadding":20,"labelPadding":6,"ticks":false}},
      "color":{"field":"cond","type":"nominal","scale":{"domain":["TO","UO"],"range":["#e8302d","#64b946"]},"legend":{"title":null,"orient":"bottom-right","offset":2,"symbolSize":150,"rowPadding":0,"padding":2}},
      "shape":{"field":"cond","type":"nominal","scale":{"domain":["TO","UO"],"range":["square","circle"]},"legend":{"title":null,"orient":"bottom-right","offset":2,"symbolSize":150,"rowPadding":0,"padding":2}},
      "size":{"field":"cond","type":"nominal","scale":{"domain":["TO","UO"],"range":[156,225]},"legend":null}}}
   ]
  }
  ]
 }
 ]
}
]
}
